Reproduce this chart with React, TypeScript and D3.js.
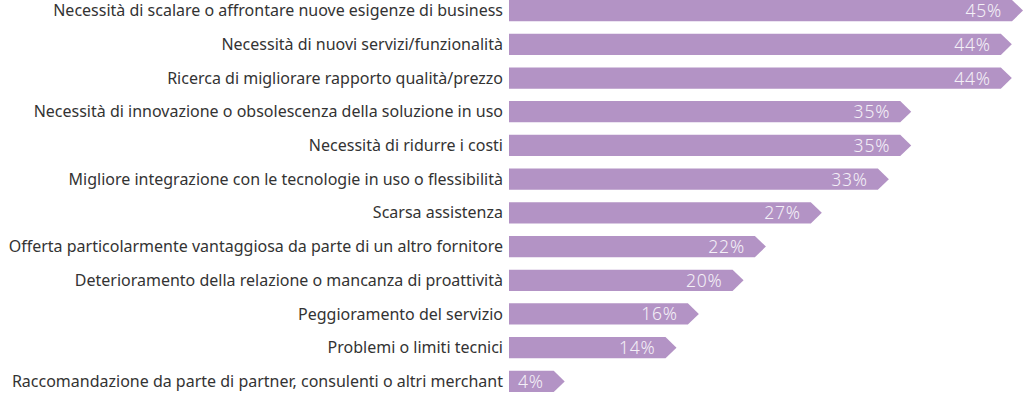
import React from "react";
import * as d3 from "d3";

const categories = [
  "Necessità di scalare o affrontare nuove esigenze di business",
  "Necessità di nuovi servizi/funzionalità",
  "Ricerca di migliorare rapporto qualità/prezzo",
  "Necessità di innovazione o obsolescenza della soluzione in uso",
  "Necessità di ridurre i costi",
  "Migliore integrazione con le tecnologie in uso o flessibilità",
  "Scarsa assistenza",
  "Offerta particolarmente vantaggiosa da parte di un altro fornitore",
  "Deterioramento della relazione o mancanza di proattività",
  "Peggioramento del servizio",
  "Problemi o limiti tecnici",
  "Raccomandazione da parte di partner, consulenti o altri merchant",
];
const values = [45, 44, 44, 35, 35, 33, 27, 22, 20, 16, 14, 4];

const W = 1024;
const H = 397;
const X0 = 509;
const TIP = 11;

export default function App() {
  const x = d3.scaleLinear().domain([0, 45]).range([0, 503]);
  const y = d3.scaleBand<string>().domain(categories).range([0, 392]).paddingInner(0.37).paddingOuter(0);
  const bh = y.bandwidth();
  return (
    <svg width={W} height={H} style={{ position: "absolute", left: 0, top: 0, display: "block" }}>
      {categories.map((c, i) => {
        const v = values[i];
        const y0 = y(c)!;
        const xe = X0 + x(v);
        const path = d3.path();
        path.moveTo(X0, y0);
        path.lineTo(xe, y0);
        path.lineTo(xe + TIP, y0 + bh / 2);
        path.lineTo(xe, y0 + bh);
        path.lineTo(X0, y0 + bh);
        path.closePath();
        return (
          <g key={c}>
            <text
              x={503}
              y={y0 + bh / 2}
              dy="0.35em"
              textAnchor="end"
              fontFamily="'Noto Sans', sans-serif"
              fontSize={16}
              fill="#333"
            >
              {c}
            </text>
            <path d={path.toString()} fill="#b393c5" />
            <text
              x={xe - 10}
              y={y0 + bh / 2}
              dy="0.37em"
              textAnchor="end"
              fontFamily="'Noto Sans', sans-serif"
              fontWeight={300}
              fontSize={17.5}
              letterSpacing={0.8}
              fill="#f4f0f7"
            >
              {v}%
            </text>
          </g>
        );
      })}
    </svg>
  );
}
